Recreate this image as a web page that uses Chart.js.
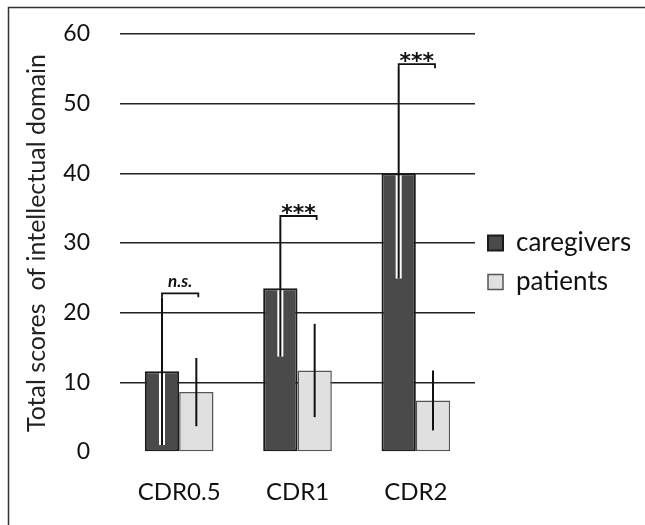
<!DOCTYPE html>
<html>
<head>
<meta charset="utf-8">
<script src="https://cdn.jsdelivr.net/npm/chart.js@4"></script>
<style>
  html, body { margin: 0; padding: 0; background: #fff; }
  #wrap { width: 645px; height: 525px; }
</style>
</head>
<body>
<div id="wrap"><canvas id="chart" width="645" height="525"></canvas></div>
<script>
const categories = ["CDR0.5", "CDR1", "CDR2"];
const caregivers = [11.6, 23.5, 40.0];
const caregiversSD = [10.6, 9.8, 15.1];
const patients = [8.6, 11.7, 7.4];
const patientsSD = [4.9, 6.7, 4.3];
const significance = ["n.s.", "***", "***"];
const yTicks = [0, 10, 20, 30, 40, 50, 60];

// thin frame on top and left, like the scanned figure
const framePlugin = {
  id: "frame",
  beforeDraw(chart) {
    const c = chart.ctx;
    c.save();
    c.strokeStyle = "#333";
    c.lineWidth = 1.5;
    c.beginPath();
    c.moveTo(645, 7.5);
    c.lineTo(8.5, 7.5);
    c.lineTo(8.5, 525);
    c.stroke();
    c.restore();
  },
};

// error bars (no caps) and significance brackets
const errorPlugin = {
  id: "errors",
  afterDatasetsDraw(chart) {
    const c = chart.ctx;
    const y = chart.scales.y;
    const sds = [caregiversSD, patientsSD];
    const top = [];
    c.save();
    chart.data.datasets.forEach((ds, di) => {
      const meta = chart.getDatasetMeta(di);
      meta.data.forEach((bar, i) => {
        const hi = y.getPixelForValue(ds.data[i] + sds[di][i]);
        const lo = y.getPixelForValue(ds.data[i] - sds[di][i]);
        if (di === 0) {
          c.strokeStyle = "#fff";
          c.lineWidth = 6;
          c.beginPath();
          c.moveTo(bar.x, Math.max(hi, bar.y + 2));
          c.lineTo(bar.x, lo);
          c.stroke();
          top[i] = { x: bar.x, y: hi };
        } else {
          top[i].x2 = bar.x;
        }
        c.strokeStyle = "#111";
        c.lineWidth = 2;
        c.beginPath();
        c.moveTo(bar.x, hi);
        c.lineTo(bar.x, lo);
        c.stroke();
      });
    });
    top.forEach((t, i) => {
      const by = t.y - 4;
      const mid = (t.x + t.x2) / 2;
      c.strokeStyle = "#111";
      c.lineWidth = 1.8;
      c.beginPath();
      c.moveTo(t.x, t.y);
      c.lineTo(t.x, by);
      c.lineTo(t.x2 + 2, by);
      c.lineTo(t.x2 + 2, by + 4);
      c.stroke();
      c.fillStyle = "#111";
      c.textAlign = "center";
      c.textBaseline = "alphabetic";
      if (significance[i] === "n.s.") {
        c.font = "italic bold 17px Lato";
        c.fillText(significance[i], mid + 1, by - 6);
      } else {
        c.font = "bold 22px 'DejaVu Sans'";
        c.fillText(significance[i], mid + 1, by + 4);
      }
    });
    c.restore();
  },
};

new Chart(document.getElementById("chart"), {
  type: "bar",
  data: {
    labels: categories,
    datasets: [
      {
        label: "caregivers",
        data: caregivers,
        backgroundColor: "#4a4a4a",
        borderColor: "#1a1a1a",
        borderWidth: 2,
        borderSkipped: false,
      },
      {
        label: "patients",
        data: patients,
        backgroundColor: "#e0e0e0",
        borderColor: "#555",
        borderWidth: 1.5,
        borderSkipped: false,
      },
    ],
  },
  options: {
    responsive: false,
    animation: false,
    layout: { padding: { left: 10, top: 14, right: 15, bottom: 14 } },
    datasets: { bar: { categoryPercentage: 0.58, barPercentage: 1.0 } },
    scales: {
      x: {
        afterFit: (scale) => {
          scale.height = 59;
        },
        grid: { display: false },
        border: { display: false },
        ticks: { color: "#111", font: { family: "Lato", size: 24 }, padding: 18, maxRotation: 0 },
      },
      y: {
        min: 0,
        max: 60,
        afterBuildTicks: (scale) => {
          scale.ticks = yTicks.map((v) => ({ value: v }));
        },
        afterFit: (scale) => {
          scale.width = 110;
          scale.paddingTop = 34;
          scale.paddingBottom = 20;
        },
        grid: {
          drawTicks: false,
          lineWidth: 1.5,
          color: (ctx) => (ctx.tick && ctx.tick.value === 0 ? "rgba(0,0,0,0)" : "#222"),
        },
        border: { display: false },
        ticks: { color: "#111", font: { family: "Lato", size: 23 }, padding: 30 },
        title: {
          display: true,
          text: "Total scores  of intellectual domain",
          color: "#222",
          font: { family: "Lato", size: 25 },
          padding: { top: 12, bottom: 0 },
        },
      },
    },
    plugins: {
      tooltip: { enabled: false },
      legend: {
        position: "right",
        labels: {
          color: "#111",
          font: { family: "Lato", size: 26 },
          boxWidth: 15,
          boxHeight: 15,
          padding: 13,
        },
      },
    },
  },
  plugins: [framePlugin, errorPlugin],
});
</script>
</body>
</html>
